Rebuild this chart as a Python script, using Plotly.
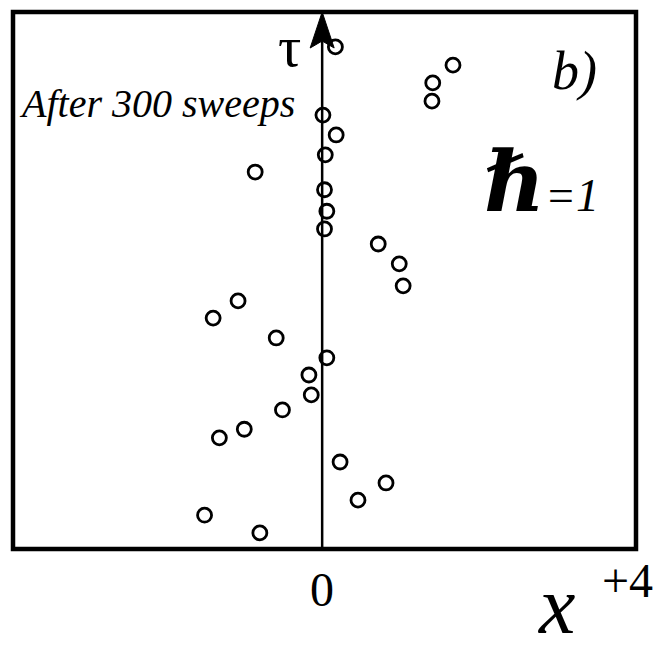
import plotly.graph_objects as go

# Particle positions (x) against imaginary time (tau) after 300 Monte Carlo sweeps
x_pos = [0.17, 1.68, 1.42, 1.41, 0.01, 0.18, 0.04, -0.86, 0.03, 0.06,
         0.03, 0.72, 0.99, 1.04, -1.08, -1.40, -0.59, 0.06, -0.17, -0.14,
         -0.51, -1.00, -1.32, 0.23, 0.82, 0.46, -1.51, -0.80]
tau = [9.35, 9.01, 8.68, 8.34, 8.08, 7.71, 7.34, 7.02, 6.69, 6.29,
       5.96, 5.68, 5.31, 4.90, 4.62, 4.30, 3.93, 3.56, 3.24, 2.87,
       2.59, 2.23, 2.07, 1.62, 1.23, 0.91, 0.63, 0.30]

x_range = [-3.97, 4.03]
tau_range = [0, 10]
tick_zero = "0"
tick_right = "+4"

SERIF = "Times New Roman, Liberation Serif, DejaVu Serif, serif"

fig = go.Figure()

# tau axis through x = 0
fig.add_shape(type="line", xref="x", yref="y",
              x0=0, x1=0, y0=tau_range[0], y1=tau_range[1] - 0.3,
              line=dict(color="black", width=2.5))
# arrow head at the top of the tau axis
fig.add_shape(type="path", xref="x", yref="y",
              xsizemode="pixel", ysizemode="pixel",
              xanchor=0, yanchor=tau_range[1],
              path="M0,0 L-12,-36 L0,-29 L12,-36 Z",
              fillcolor="black", line=dict(color="black", width=1))

fig.add_trace(go.Scatter(
    x=x_pos, y=tau, mode="markers",
    marker=dict(symbol="circle", size=14, color="white",
                line=dict(color="black", width=2.8)),
    showlegend=False, hoverinfo="skip"))

# frame
fig.add_shape(type="rect", xref="paper", yref="paper", x0=0, x1=1, y0=0, y1=1,
              line=dict(color="black", width=4.5))

ann = [
    dict(text="τ", x=0.4445, y=0.935, size=58, xanchor="center", yanchor="middle"),
    dict(text="<i>After 300 sweeps</i>", x=0.006, y=0.83, size=40, xanchor="left", yanchor="middle"),
    dict(text="<i>b)</i>", x=0.902, y=0.89, size=54, xanchor="center", yanchor="middle"),
    dict(text="<i><b><span style='font-size:84px'>ℏ</span></b>"
              "<span style='font-size:46px'>=1</span></i>",
         x=0.753, y=0.683, size=46, xanchor="left", yanchor="middle"),
    dict(text=tick_zero, x=0.496, y=-0.0745, size=48, xanchor="center", yanchor="middle"),
    dict(text=tick_right, x=0.9856, y=-0.058, size=48, xanchor="center", yanchor="middle"),
    dict(text="<i>x</i>", x=0.873, y=-0.1935, size=82, xanchor="center", yanchor="bottom"),
]
for a in ann:
    fig.add_annotation(text=a["text"], x=a["x"], y=a["y"], xref="paper", yref="paper",
                       xanchor=a["xanchor"], yanchor=a["yanchor"], showarrow=False,
                       font=dict(family=SERIF, size=a["size"], color="black"))

fig.update_xaxes(range=x_range, visible=False, fixedrange=True)
fig.update_yaxes(range=tau_range, visible=False, fixedrange=True)
fig.update_layout(width=657, height=654,
                  margin=dict(l=13, r=21, t=12, b=105),
                  plot_bgcolor="white", paper_bgcolor="white")

fig.write_html("out.html")
